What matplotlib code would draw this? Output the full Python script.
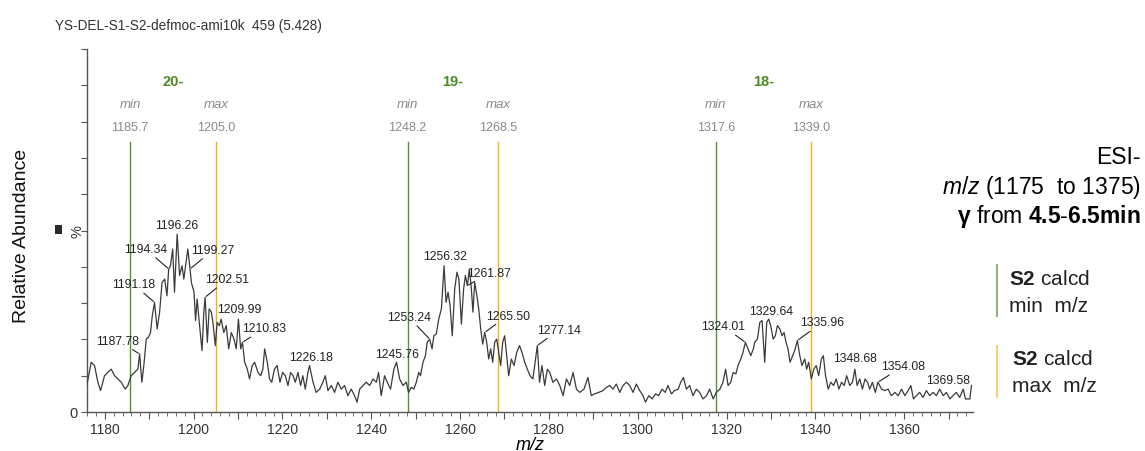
import numpy as np
import matplotlib
matplotlib.use("Agg")
import matplotlib.pyplot as plt
from matplotlib.ticker import MultipleLocator, FuncFormatter, FixedLocator
from matplotlib.lines import Line2D
from matplotlib.patches import Rectangle
import matplotlib.transforms as mtransforms

plt.rcParams['font.family'] = ['Liberation Sans', 'DejaVu Sans']
plt.rcParams['mathtext.fontset'] = 'custom'
plt.rcParams['mathtext.rm'] = 'Liberation Sans'
plt.rcParams['mathtext.it'] = 'Liberation Sans:italic'
plt.rcParams['mathtext.bf'] = 'Liberation Sans:bold'

# spectrum (m/z, relative abundance %)
mz = [
    1175.8, 1176.95, 1177.7, 1178.45, 1179.05, 1179.95, 1180.7, 1181.45, 1182.2, 1182.95,
    1183.7, 1184.6, 1185.2, 1185.95, 1186.7, 1187.45, 1187.85, 1188.35, 1188.8, 1189.35,
    1189.85, 1190.3, 1190.7, 1191.2, 1191.8, 1192.35, 1192.9, 1193.5, 1194.0, 1194.4,
    1194.8, 1195.3, 1195.7, 1196.3, 1196.85, 1197.4, 1197.8, 1198.35, 1198.7, 1199.2,
    1199.5, 1200.1, 1200.45, 1200.8, 1201.35, 1201.9, 1202.3, 1202.6, 1203.1, 1203.5,
    1204.0, 1204.35, 1204.9, 1205.3, 1205.8, 1206.2, 1206.8, 1207.35, 1207.9, 1208.5,
    1209.1, 1209.6, 1210.1, 1210.6, 1211.0, 1211.5, 1212.1, 1212.6, 1213.2, 1213.75,
    1214.5, 1215.1, 1215.6, 1216.0, 1216.6, 1217.1, 1217.6, 1218.2, 1218.8, 1219.45,
    1220.05, 1220.65, 1221.25, 1221.85, 1222.4, 1222.9, 1223.5, 1224.1, 1224.6, 1225.15,
    1225.75, 1226.1, 1226.9, 1227.6, 1228.4, 1229.1, 1229.65, 1230.25, 1231.0, 1231.75,
    1232.5, 1233.25, 1234.0, 1234.75, 1235.5, 1236.25, 1236.8, 1237.4, 1238.15, 1238.9,
    1239.65, 1240.4, 1241.15, 1241.65, 1242.25, 1243.0, 1243.6, 1244.35, 1245.1, 1245.7,
    1246.4, 1247.15, 1247.9, 1248.4, 1249.0, 1249.6, 1250.15, 1250.7, 1251.1, 1251.65,
    1252.2, 1252.6, 1253.15, 1253.7, 1254.1, 1254.65, 1255.2, 1255.8, 1256.4, 1256.85,
    1257.3, 1257.75, 1258.25, 1258.8, 1259.3, 1259.75, 1260.3, 1260.8, 1261.2, 1261.65,
    1262.1, 1262.55, 1262.9, 1263.3, 1263.8, 1264.2, 1264.65, 1265.1, 1265.55, 1266.0,
    1266.45, 1266.9, 1267.35, 1267.8, 1268.25, 1268.7, 1269.15, 1269.6, 1270.05, 1270.5,
    1270.95, 1271.55, 1272.15, 1272.75, 1273.4, 1273.95, 1274.55, 1275.15, 1275.75, 1276.4,
    1277.4, 1277.9, 1278.45, 1279.05, 1279.65, 1280.2, 1280.9, 1281.7, 1282.45, 1283.2,
    1283.95, 1284.7, 1285.45, 1286.2, 1286.95, 1287.9, 1288.8, 1289.55, 1290.3, 1291.2,
    1292.2, 1292.95, 1293.7, 1294.45, 1295.2, 1295.95, 1296.7, 1297.45, 1298.2, 1298.95,
    1299.7, 1300.45, 1301.2, 1301.75, 1302.5, 1303.25, 1304.0, 1304.7, 1305.5, 1306.2,
    1306.8, 1307.6, 1308.3, 1309.1, 1309.7, 1310.3, 1310.95, 1311.7, 1312.45, 1313.2,
    1313.95, 1314.7, 1315.5, 1316.2, 1317.0, 1317.7, 1318.5, 1319.2, 1319.8, 1320.35,
    1320.95, 1321.5, 1322.1, 1322.6, 1323.2, 1323.7, 1324.25, 1324.85, 1325.45, 1326.05,
    1326.35, 1326.95, 1327.5, 1328.0, 1328.6, 1329.05, 1329.5, 1329.95, 1330.5, 1331.0,
    1331.45, 1332.0, 1332.5, 1332.95, 1333.4, 1333.85, 1334.3, 1334.75, 1335.35, 1335.95,
    1336.5, 1337.0, 1337.6, 1338.05, 1338.5, 1339.1, 1339.65, 1340.2, 1340.75, 1341.35,
    1341.8, 1342.3, 1342.9, 1343.5, 1344.1, 1344.7, 1345.3, 1345.9, 1346.5, 1347.05,
    1347.75, 1348.35, 1348.9, 1349.4, 1350.0, 1350.6, 1351.2, 1351.75, 1352.25, 1352.85,
    1353.5, 1354.1, 1354.9, 1355.65, 1356.4, 1357.1, 1357.9, 1358.65, 1359.4, 1360.15,
    1360.9, 1361.5, 1362.1, 1362.75, 1363.5, 1364.25, 1365.0, 1365.75, 1366.5, 1367.25,
    1368.0, 1368.8, 1369.5, 1370.3, 1371.0, 1371.75, 1372.5, 1373.3, 1373.8, 1374.8,
    1375.15,
]
intensity = [
    6.3, 13.7, 12.8, 8.2, 5.9, 10.0, 10.9, 11.8, 10.0, 9.1,
    8.2, 6.3, 7.3, 10.0, 10.9, 11.8, 16.0, 8.2, 12.8, 20.1,
    20.6, 21.9, 26.5, 30.2, 22.9, 27.5, 35.7, 36.6, 32.0, 39.4,
    40.3, 44.9, 33.0, 49.0, 37.6, 40.3, 36.6, 41.7, 44.9, 39.4,
    35.7, 33.0, 25.2, 31.1, 23.8, 16.9, 27.5, 31.6, 19.2, 28.4,
    27.5, 24.7, 18.3, 24.7, 23.8, 25.6, 21.9, 23.8, 17.4, 21.9,
    20.1, 17.4, 25.6, 17.4, 19.2, 13.7, 11.8, 9.1, 12.8, 13.7,
    10.9, 10.0, 11.8, 17.4, 13.7, 9.1, 8.2, 11.8, 12.8, 8.2,
    10.9, 10.0, 7.3, 10.9, 10.0, 8.2, 10.9, 7.3, 10.0, 6.3,
    10.9, 12.8, 8.2, 5.4, 6.3, 8.2, 10.0, 5.9, 7.3, 5.4,
    8.2, 6.3, 7.3, 4.5, 6.3, 4.5, 2.7, 6.3, 7.3, 8.2,
    7.3, 9.1, 8.2, 10.9, 4.5, 10.0, 8.2, 6.3, 11.8, 13.7,
    9.1, 7.3, 8.2, 5.4, 6.8, 6.3, 8.2, 10.9, 10.0, 13.7,
    15.5, 19.2, 20.1, 17.4, 21.0, 21.5, 25.6, 28.4, 40.3, 30.2,
    33.0, 29.3, 21.0, 33.9, 38.5, 36.6, 24.2, 33.9, 37.6, 34.8,
    39.4, 33.9, 27.5, 35.7, 32.0, 28.4, 22.9, 18.7, 21.9, 19.2,
    14.6, 17.4, 13.7, 19.2, 20.1, 16.4, 12.8, 19.2, 21.0, 15.5,
    10.0, 14.6, 12.8, 16.4, 18.3, 16.4, 13.7, 11.8, 10.0, 9.1,
    18.3, 8.2, 12.8, 7.3, 11.8, 10.9, 8.2, 9.1, 7.3, 4.5,
    9.1, 7.3, 10.9, 6.3, 5.4, 6.3, 9.5, 4.5, 5.0, 5.4,
    5.9, 6.8, 7.3, 6.3, 7.7, 5.4, 7.3, 8.2, 7.3, 5.4,
    7.7, 5.9, 4.5, 2.7, 4.5, 3.6, 5.0, 4.5, 6.3, 5.4,
    7.3, 5.0, 5.9, 6.3, 8.2, 9.5, 6.3, 7.3, 4.5, 6.3,
    5.4, 3.6, 4.5, 6.3, 3.6, 5.4, 6.3, 8.2, 11.8, 7.3,
    8.2, 10.9, 10.5, 12.8, 14.6, 16.4, 19.2, 17.4, 15.5, 17.4,
    19.2, 20.1, 24.7, 25.2, 13.7, 24.7, 25.6, 23.8, 20.1, 21.0,
    23.8, 22.9, 21.0, 21.9, 19.2, 17.4, 13.7, 15.1, 16.9, 19.7,
    15.5, 12.8, 14.6, 11.8, 13.7, 9.1, 11.8, 12.8, 10.0, 14.6,
    15.5, 10.0, 6.3, 8.2, 7.3, 9.1, 6.3, 8.2, 7.3, 10.0,
    7.3, 8.2, 11.8, 7.3, 9.1, 6.3, 9.1, 8.2, 6.3, 8.2,
    5.4, 8.2, 6.3, 5.9, 6.3, 4.5, 5.4, 4.5, 6.3, 4.5,
    5.9, 7.3, 3.6, 4.5, 5.4, 4.0, 5.9, 4.5, 5.4, 4.5,
    6.3, 4.5, 5.4, 3.6, 4.5, 5.4, 4.0, 6.3, 3.6, 3.6,
    7.3,
]

# labelled centroid peaks and where their text sits (pixel offsets)
peak_labels = [1187.78, 1191.18, 1194.34, 1196.26, 1199.27, 1202.51, 1209.99, 1210.83,
               1226.18, 1245.76, 1253.24, 1256.32, 1261.87, 1265.50, 1277.14, 1324.01,
               1329.64, 1335.96, 1348.68, 1354.08, 1369.58]
label_offsets = [(-22, 13), (-21, 18), (-23, 20), (0, 9), (23, 19), (22, 18), (1, 10), (22, 14),
                 (2, 9), (1, 8), (-21, 22), (1, 10), (22, 13), (23, 17), (22, 16), (-22, 16),
                 (2, 8), (25, 18), (0, 11), (25, 16), (2, 12)]

# calculated S2 m/z windows per charge state
charge_states = ["20-", "19-", "18-"]
mz_min = [1185.7, 1248.2, 1317.6]
mz_max = [1205.0, 1268.5, 1339.0]

green = "#55922f"
orange = "#f2b01e"
grey_txt = "#8a8a8a"

mz = np.array(mz)
intensity = np.array(intensity)

fig = plt.figure(figsize=(11.45, 4.52), dpi=100)
ax = fig.add_axes([87 / 1145, 1 - 413 / 452, (973 - 87) / 1145, (413 - 50) / 452])

ax.plot(mz, intensity, color="#3a3a3a", lw=0.9, zorder=3)

# min / max guide lines with their captions
trans = mtransforms.blended_transform_factory(ax.transData, ax.transAxes)
for cs, lo, hi in zip(charge_states, mz_min, mz_max):
    ax.axvline(lo, ymax=0.745, color=green, lw=1.0, zorder=2)
    ax.axvline(hi, ymax=0.745, color=orange, lw=1.0, zorder=2)
    ax.text((lo + hi) / 2, 0.912, cs, transform=trans, ha="center", va="center",
            fontsize=10.5, fontweight="bold", color="#4e8a2a")
    for v, word in ((lo, "min"), (hi, "max")):
        ax.text(v, 0.848, word, transform=trans, ha="center", va="center",
                fontsize=9.5, style="italic", color=grey_txt)
        ax.text(v, 0.785, f"{v:.1f}", transform=trans, ha="center", va="center",
                fontsize=9, color=grey_txt)

# peak labels
for p, (dx, dy) in zip(peak_labels, label_offsets):
    i = int(np.argmin(np.abs(mz - p)))
    arrow = dict(arrowstyle="-", lw=0.8, color="#222222", shrinkA=0, shrinkB=1) if abs(dx) > 10 else None
    ax.annotate(f"{p:.2f}", xy=(mz[i], intensity[i]), xytext=(dx, dy), textcoords="offset pixels",
                ha="center", va="center", fontsize=8.8, color="#222222", arrowprops=arrow, zorder=4)

ax.set_xlim(1176, 1375.5)
ax.set_ylim(0, 100)
for s in ("top", "right"):
    ax.spines[s].set_visible(False)
for s in ("left", "bottom"):
    ax.spines[s].set_color("#555555")
    ax.spines[s].set_linewidth(1.0)

ax.xaxis.set_major_locator(MultipleLocator(10))
ax.xaxis.set_minor_locator(MultipleLocator(2))
ax.xaxis.set_major_formatter(FuncFormatter(lambda v, p: f"{v:.0f}" if round(v) % 20 == 0 else ""))
ax.yaxis.set_major_locator(FixedLocator(np.arange(0, 101, 10)))
ax.yaxis.set_major_formatter(FuncFormatter(lambda v, p: "0" if v == 0 else ""))
ax.tick_params(axis="x", which="major", length=5, width=0.8, color="#555555", labelsize=10, labelcolor="#333333", pad=2)
ax.tick_params(axis="x", which="minor", length=3, width=0.6, color="#555555")
ax.tick_params(axis="y", which="major", length=4, width=0.8, color="#555555", labelsize=10.5, labelcolor="#333333", pad=3)

ax.set_xlabel("m/z", style="italic", fontsize=13, labelpad=0)

# header, axis title and the % marker
fig.text(55 / 1145, 1 - 26 / 452, "YS-DEL-S1-S2-defmoc-ami10k  459 (5.428)", fontsize=9.8,
         color="#333333", ha="left", va="center")
fig.text(22 / 1145, 1 - 236 / 452, "Relative Abundance", rotation=90, fontsize=14,
         ha="center", va="center", color="#111111")
fig.text(77 / 1145, 1 - 232 / 452, "%", rotation=90, fontsize=10.5, ha="center", va="center", color="#333333")
fig.patches.append(Rectangle((55 / 1145, 1 - 235 / 452), 7 / 1145, 9 / 452, transform=fig.transFigure,
                             facecolor="#2a2a2a", edgecolor="none"))

# right side annotation
fig.text(1141 / 1145, 1 - 158 / 452, "ESI-", fontsize=16.5, ha="right", va="center")
fig.text(1141 / 1145, 1 - 188 / 452, r"$\mathit{m/z}$ (1175  to 1375)", fontsize=16.5, ha="right", va="center")
fig.text(1141 / 1145, 1 - 217 / 452, r"$\mathbf{γ}$ from $\mathbf{4.5}$-$\mathbf{6.5min}$", fontsize=16.5,
         ha="right", va="center")

# legend for the guide lines
fig.add_artist(Line2D([997 / 1145] * 2, [1 - 266 / 452, 1 - 317 / 452], transform=fig.transFigure,
                      color="#8fb07f", lw=1.5))
fig.add_artist(Line2D([997 / 1145] * 2, [1 - 347 / 452, 1 - 398 / 452], transform=fig.transFigure,
                      color="#f5d27a", lw=1.5))
fig.text(1009 / 1145, 1 - 280 / 452, r"$\mathbf{S2}$ calcd", fontsize=15, ha="left", va="center", color="#222222")
fig.text(1009 / 1145, 1 - 307 / 452, "min  m/z", fontsize=15, ha="left", va="center", color="#222222")
fig.text(1012 / 1145, 1 - 360 / 452, r"$\mathbf{S2}$ calcd", fontsize=15, ha="left", va="center", color="#222222")
fig.text(1012 / 1145, 1 - 387 / 452, "max  m/z", fontsize=15, ha="left", va="center", color="#222222")

fig.savefig("out.png", dpi=100)
